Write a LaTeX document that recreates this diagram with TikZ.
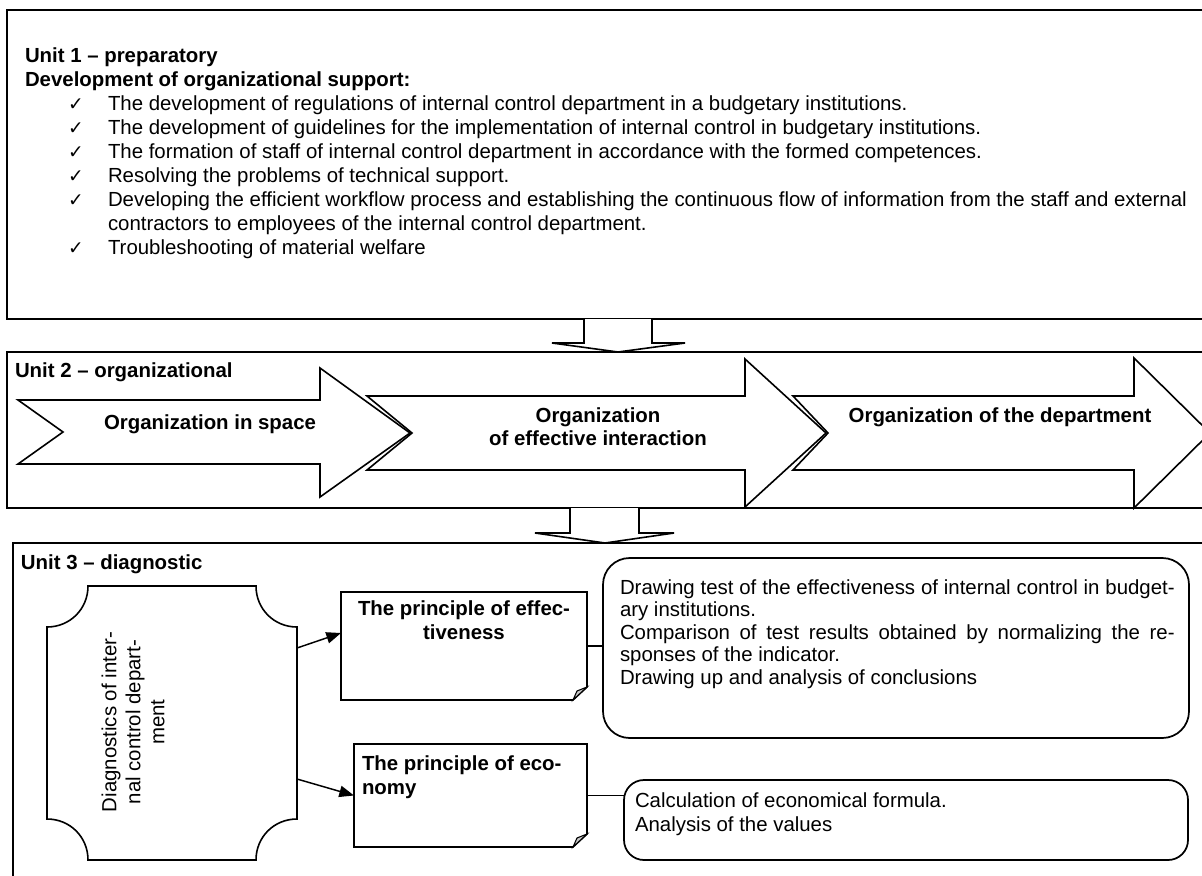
\documentclass[tikz,border=0pt]{standalone}
\usepackage{fontspec}
\setmainfont{Liberation Sans}
\newfontfamily\dejavu{DejaVu Sans}
\usetikzlibrary{arrows.meta,fit,calc}
\begin{document}
\begin{tikzpicture}[x=0.75pt,y=-0.75pt,
  every node/.style={font=\fontsize{15.3pt}{18pt}\selectfont, inner sep=0pt, outer sep=0pt},
  txt/.style={anchor=base west},
  btxt/.style={anchor=base west, font=\fontsize{15.3pt}{18pt}\selectfont\bfseries},
  bctr/.style={anchor=base, font=\fontsize{15.3pt}{18pt}\selectfont\bfseries},
  chk/.style={anchor=base west, font=\fontsize{14pt}{16pt}\dejavu},
  unitbox/.style={draw, line width=1.5pt, inner sep=0pt},
  shapeline/.style={line width=1.2pt, line join=miter},
  blk/.style={line width=1.2pt, fill=white},
  ln/.style={line width=1.1pt},
  arr/.style={line width=1.1pt, -{Triangle[length=11pt,width=8.5pt]}},
  rbox/.style={draw, line width=1.3pt, inner sep=0pt},
]
\useasboundingbox (0,0) rectangle (1202,875);
\fill[white] (0,0) rectangle (1202,875);
\clip (0,0) rectangle (1202,875);

% ---------- Unit boxes ----------
\node[unitbox, line width=1.9pt, fit={(7,10) (1220,319)}] (u1) {};
\node[unitbox, fit={(7,352) (1220,508)}] (u2) {};
\node[unitbox, fit={(13,543) (1220,900)}] (u3) {};

% ---------- Unit 1 ----------
\node[btxt] (u1t) at (25,62) {Unit 1 – preparatory};
\node[btxt] (u1s) at (25,86) {Development of organizational support:};
\foreach \yy [count=\i] in {110,134,158,182,206,254}
  \node[chk] (chk\i) at (68,\yy) {✓};
\node[txt] (b1) at (108,110) {The development of regulations of internal control department in a budgetary institutions.};
\node[txt] (b2) at (108,134) {The development of guidelines for the implementation of internal control in budgetary institutions.};
\node[txt] (b3) at (108,158) {The formation of staff of internal control department in accordance with the formed competences.};
\node[txt] (b4) at (108,182) {Resolving the problems of technical support.};
\node[txt] (b5) at (108,206) {Developing the efficient workflow process and establishing the continuous flow of information from the staff and external};
\node[txt] (b5b) at (108,230) {contractors to employees of the internal control department.};
\node[txt] (b6) at (108,254) {Troubleshooting of material welfare};

% ---------- block arrow unit 1 -> unit 2 ----------
\draw[blk] (584,319) -- (584,343) -- (552,343) -- (618,352) -- (685,343) -- (652,343) -- (652,319);

% ---------- Unit 2 ----------
\node[btxt] (u2t) at (15,377) {Unit 2 – organizational};
\draw[shapeline] (18,400) -- (320,400) -- (320,368) -- (410,433) -- (320,497) -- (320,464) -- (18,464) -- (63,432) -- cycle;
\draw[shapeline] (367,396) -- (745,396) -- (745,359) -- (826,433) -- (745,507) -- (745,470) -- (367,470) -- (412,433) -- cycle;
\draw[shapeline] (793,396) -- (1134,396) -- (1134,358) -- (1210,433) -- (1134,508) -- (1134,470) -- (793,470) -- (828,433) -- cycle;
\node[bctr] (o1) at (210,429) {Organization in space};
\node[bctr] (o2a) at (598,422) {Organization};
\node[bctr] (o2b) at (598,445) {of effective interaction};
\node[bctr] (o3) at (1000,422) {Organization of the department};

% ---------- block arrow unit 2 -> unit 3 ----------
\draw[blk] (570,508) -- (570,533) -- (535,533) -- (605,543) -- (674,533) -- (639,533) -- (639,508);

% ---------- Unit 3 ----------
\node[btxt] (u3t) at (21,569) {Unit 3 – diagnostic};

% diagnostics plaque
\node[fit={(47,586) (297,860)}, inner sep=0pt] (diag) {};
\draw[shapeline, fill=white] (88,586) -- (256,586)
  .. controls (256,609) and (274,627) .. (297,627) -- (297,819)
  .. controls (274,819) and (256,837) .. (256,860) -- (88,860)
  .. controls (88,837) and (70,819) .. (47,819) -- (47,627)
  .. controls (70,627) and (88,609) .. (88,586) -- cycle;
\node[rotate=90, align=center, font=\fontsize{15.3pt}{18pt}\selectfont] (dtxt) at (133,722) {Diagnostics of inter-\\nal control depart-\\ment};

% note boxes
\node[fit={(341,592) (587,700)}, inner sep=0pt] (n1) {};
\draw[shapeline] (n1.north west) -- (n1.north east) -- ($(n1.south east)+(0,-13)$) -- ($(n1.south east)+(-14,0)$) -- (n1.south west) -- cycle;
\draw[line width=0.8pt, fill=gray!45] ($(n1.south east)+(0,-13)$) -- ($(n1.south east)+(-14,0)$) -- ($(n1.south east)+(-10,-9)$) -- cycle;
\node[bctr] (n1a) at (464,615) {The principle of effec-};
\node[bctr] (n1b) at (464,639) {tiveness};

\node[fit={(354,744) (587,847)}, inner sep=0pt] (n2) {};
\draw[shapeline] (n2.north west) -- (n2.north east) -- ($(n2.south east)+(0,-13)$) -- ($(n2.south east)+(-14,0)$) -- (n2.south west) -- cycle;
\draw[line width=0.8pt, fill=gray!45] ($(n2.south east)+(0,-13)$) -- ($(n2.south east)+(-14,0)$) -- ($(n2.south east)+(-10,-9)$) -- cycle;
\node[btxt] (n2a) at (362,770) {The principle of eco-};
\node[btxt] (n2b) at (362,794) {nomy};

% rounded boxes
\node[rbox, rounded corners=20pt, fit={(603,558) (1189,738)}] (r1) {};
\node[txt] (r1a) at (620,594) {\makebox[416pt][s]{Drawing test of the effectiveness of internal control in budget-}};
\node[txt] (r1b) at (620,616.5) {ary institutions.};
\node[txt] (r1c) at (620,639) {\makebox[416pt][s]{Comparison of test results obtained by normalizing the re-}};
\node[txt] (r1d) at (620,661.5) {sponses of the indicator.};
\node[txt] (r1e) at (620,684) {Drawing up and analysis of conclusions};

\node[rbox, rounded corners=15pt, fit={(624,780) (1188,860)}] (r2) {};
\node[txt] (r2a) at (635,807) {Calculation of economical formula.};
\node[txt] (r2b) at (635,831) {Analysis of the values};

% connectors
\draw[arr] ($(diag.north east)+(0,62)$) -- ($(n1.north west)+(0,41)$);
\draw[arr] ($(diag.north east)+(0,193)$) -- (n2.west);
\draw[ln] (n1.east) -- (n1.east -| r1.west);
\draw[ln] (n2.east) -- (n2.east -| r2.west);
\end{tikzpicture}
\end{document}
